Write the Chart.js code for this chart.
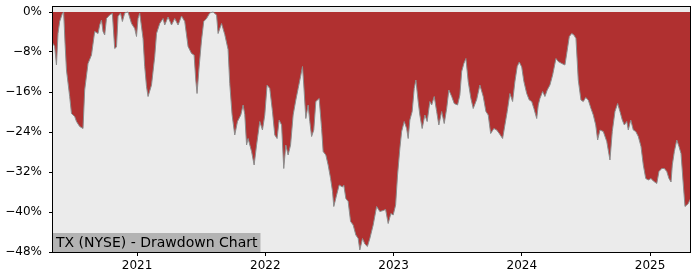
<!DOCTYPE html>
<html>
<head>
<meta charset="utf-8">
<title>TX (NYSE) - Drawdown Chart</title>
<script src="https://cdn.jsdelivr.net/npm/chart.js@4.4.1/dist/chart.umd.min.js"></script>
<style>
  html, body { margin: 0; padding: 0; background: #ffffff; }
  #wrap { width: 700px; height: 280px; }
</style>
</head>
<body>
<div id="wrap"><canvas id="chart" width="700" height="280"></canvas></div>
<script>
// dates as fractional years
const dates = [
  2020.345, 2020.358, 2020.372, 2020.384, 2020.397, 2020.418, 2020.428, 2020.439, 2020.450, 2020.475,
  2020.489, 2020.514, 2020.528, 2020.553, 2020.579, 2020.592, 2020.618, 2020.645, 2020.670, 2020.696,
  2020.709, 2020.723, 2020.735, 2020.748, 2020.762, 2020.787, 2020.808, 2020.826, 2020.840, 2020.852,
  2020.871, 2020.886, 2020.904, 2020.930, 2020.957, 2020.982, 2020.996, 2021.008, 2021.021, 2021.047,
  2021.060, 2021.074, 2021.086, 2021.113, 2021.138, 2021.152, 2021.177, 2021.203, 2021.216, 2021.242,
  2021.269, 2021.294, 2021.320, 2021.347, 2021.372, 2021.398, 2021.425, 2021.445, 2021.458, 2021.468,
  2021.484, 2021.503, 2021.520, 2021.542, 2021.567, 2021.593, 2021.620, 2021.632, 2021.659, 2021.684,
  2021.710, 2021.723, 2021.741, 2021.762, 2021.783, 2021.809, 2021.827, 2021.840, 2021.854, 2021.866,
  2021.893, 2021.913, 2021.932, 2021.957, 2021.978, 2021.996, 2022.014, 2022.035, 2022.056, 2022.074,
  2022.092, 2022.108, 2022.127, 2022.144, 2022.160, 2022.178, 2022.197, 2022.217, 2022.238, 2022.256,
  2022.275, 2022.290, 2022.300, 2022.316, 2022.334, 2022.347, 2022.361, 2022.378, 2022.394, 2022.420,
  2022.439, 2022.451, 2022.472, 2022.490, 2022.509, 2022.524, 2022.534, 2022.556, 2022.576, 2022.602,
  2022.612, 2022.628, 2022.646, 2022.665, 2022.685, 2022.706, 2022.724, 2022.737, 2022.758, 2022.776,
  2022.796, 2022.815, 2022.841, 2022.868, 2022.893, 2022.919, 2022.938, 2022.958, 2022.979, 2022.997,
  2023.016, 2023.031, 2023.049, 2023.063, 2023.083, 2023.102, 2023.114, 2023.127, 2023.145, 2023.161,
  2023.174, 2023.192, 2023.205, 2023.223, 2023.244, 2023.262, 2023.283, 2023.297, 2023.317, 2023.336,
  2023.353, 2023.375, 2023.395, 2023.414, 2023.431, 2023.453, 2023.473, 2023.499, 2023.517, 2023.531,
  2023.548, 2023.564, 2023.582, 2023.603, 2023.621, 2023.648, 2023.673, 2023.699, 2023.720, 2023.738,
  2023.757, 2023.782, 2023.804, 2023.824, 2023.850, 2023.868, 2023.886, 2023.907, 2023.928, 2023.946,
  2023.964, 2023.980, 2023.999, 2024.016, 2024.038, 2024.058, 2024.077, 2024.094, 2024.116, 2024.128,
  2024.141, 2024.162, 2024.180, 2024.198, 2024.219, 2024.240, 2024.266, 2024.284, 2024.311, 2024.336,
  2024.350, 2024.370, 2024.389, 2024.406, 2024.422, 2024.440, 2024.461, 2024.479, 2024.498, 2024.518,
  2024.539, 2024.557, 2024.576, 2024.591, 2024.609, 2024.635, 2024.662, 2024.687, 2024.705, 2024.726,
  2024.747, 2024.765, 2024.783, 2024.799, 2024.818, 2024.830, 2024.849, 2024.869, 2024.888, 2024.908,
  2024.929, 2024.947, 2024.966, 2024.986, 2025.007, 2025.025, 2025.052, 2025.069, 2025.091, 2025.111,
  2025.130, 2025.147, 2025.163, 2025.173, 2025.189, 2025.208, 2025.225, 2025.241, 2025.259, 2025.272,
  2025.286, 2025.298, 2025.311
];

// drawdown from running high, in percent
const drawdown = [
  -6.3, -6.9, -10.6, -4.3, -1.9, -0.3, 0, -6.3, -11.6, -16.9,
  -20.3, -20.9, -21.9, -22.9, -23.3, -15.6, -10.3, -8.6, -3.9, -4.3,
  -2.6, -1.6, -3.9, -4.6, -1.3, -0.6, -0.3, -7.3, -7.0, -0.9,
  -0.2, -1.9, -0.2, 0, -2.3, -3.3, -4.9, -1.3, -0.2, -5.3,
  -10.9, -14.9, -16.9, -14.6, -8.9, -4.3, -2.3, -1.3, -2.6, -1.0,
  -2.6, -1.3, -2.6, -0.8, -1.9, -6.9, -8.3, -8.6, -13.6, -16.3,
  -11.0, -5.6, -1.9, -1.3, -0.2, 0, -0.6, -4.3, -2.3, -4.5,
  -7.5, -14.3, -20.5, -24.6, -21.9, -20.6, -18.6, -20.5, -26.6, -25.3,
  -27.9, -30.6, -26.6, -21.9, -23.6, -20.6, -14.6, -15.3, -19.9, -24.6,
  -25.3, -21.6, -22.6, -31.3, -26.6, -28.6, -26.6, -20.6, -17.6, -15.3,
  -12.9, -10.9, -14.6, -21.3, -18.6, -21.9, -24.9, -23.6, -17.9, -17.3,
  -23.3, -27.9, -28.6, -30.6, -33.3, -35.9, -38.9, -36.6, -34.6, -35.0,
  -34.6, -37.3, -37.9, -41.9, -42.6, -44.6, -45.3, -47.6, -45.3, -46.4,
  -46.9, -45.3, -42.6, -38.9, -39.9, -39.7, -39.5, -42.3, -40.3, -40.6,
  -38.6, -32.6, -27.3, -23.9, -21.9, -23.3, -25.3, -21.6, -19.9, -15.3,
  -13.6, -17.9, -20.6, -23.3, -20.6, -21.9, -17.9, -18.6, -16.9, -19.9,
  -22.6, -19.9, -22.3, -19.3, -15.6, -16.9, -18.3, -18.6, -16.6, -11.9,
  -10.3, -9.3, -13.9, -17.3, -19.3, -17.5, -14.6, -16.9, -19.9, -20.6,
  -24.3, -23.3, -23.6, -24.3, -25.3, -22.6, -19.9, -16.3, -17.9, -13.9,
  -10.9, -10.0, -11.0, -13.9, -16.3, -17.6, -17.9, -19.3, -21.3, -18.6,
  -17.3, -15.9, -16.9, -15.6, -14.6, -12.6, -9.3, -9.9, -10.3, -10.6,
  -8.3, -4.9, -4.3, -4.6, -5.3, -13.6, -17.6, -17.9, -17.1, -17.6,
  -19.3, -20.6, -22.6, -25.6, -23.6, -23.9, -25.9, -29.6, -23.9, -19.9,
  -18.3, -19.9, -21.6, -22.6, -21.9, -23.6, -21.6, -23.6, -23.9, -24.9,
  -26.9, -30.6, -33.3, -33.6, -33.3, -33.8, -34.3, -31.9, -31.3, -31.3,
  -31.9, -33.3, -34.0, -30.6, -27.9, -25.6, -26.9, -28.3, -34.6, -38.9,
  -38.6, -38.3, -37.5
];

const yearTicks = [2021, 2022, 2023, 2024, 2025];
const title = 'TX (NYSE) - Drawdown Chart';

const font = { family: 'DejaVu Sans', size: 12 };

// grey plot background, black frame and the title box in the bottom-left corner
const framePlugin = {
  id: 'frame',
  beforeDraw(chart) {
    const { ctx, chartArea: a } = chart;
    ctx.save();
    ctx.fillStyle = '#ebebeb';
    ctx.fillRect(a.left, a.top, a.right - a.left, a.bottom - a.top);
    ctx.restore();
  },
  afterDraw(chart) {
    const { ctx, chartArea: a } = chart;
    ctx.save();
    ctx.font = '14px "DejaVu Sans"';
    const w = ctx.measureText(title).width;
    ctx.fillStyle = '#b3b3b3';
    ctx.fillRect(a.left, a.bottom - 19, w + 6, 19);
    ctx.fillStyle = '#000000';
    ctx.textBaseline = 'middle';
    ctx.fillText(title, a.left + 3, a.bottom - 9);
    ctx.strokeStyle = '#000000';
    ctx.lineWidth = 1;
    ctx.strokeRect(Math.round(a.left) - 0.5, Math.round(a.top) - 0.5,
      Math.round(a.right - a.left) + 1, Math.round(a.bottom - a.top) + 1);
    ctx.restore();
  }
};

new Chart(document.getElementById('chart'), {
  type: 'line',
  data: {
    datasets: [{
      label: 'Drawdown',
      data: dates.map((d, i) => ({ x: d, y: drawdown[i] })),
      borderColor: '#8c8c8c',
      borderWidth: 1,
      backgroundColor: '#b03030',
      fill: 'origin',
      pointRadius: 0,
      tension: 0
    }]
  },
  options: {
    responsive: false,
    animation: false,
    layout: { padding: { left: 0, right: 10, top: 7, bottom: 0 } },
    plugins: {
      legend: { display: false },
      tooltip: { enabled: false }
    },
    scales: {
      x: {
        type: 'linear',
        min: dates[0],
        max: dates[dates.length - 1],
        afterFit(scale) {
          scale.height = 28;
          scale.paddingLeft = 0;
          scale.paddingRight = 0;
        },
        afterBuildTicks(scale) { scale.ticks = yearTicks.map(v => ({ value: v })); },
        border: { display: false },
        grid: { drawOnChartArea: false, drawTicks: true, tickLength: 4, color: '#000000' },
        ticks: {
          color: '#000000',
          font: font,
          padding: 3,
          maxRotation: 0,
          callback: v => String(v)
        }
      },
      y: {
        min: -48,
        max: 1,
        afterFit(scale) {
          scale.width = 53;
          scale.paddingTop = 0;
          scale.paddingBottom = 0;
        },
        border: { display: false },
        grid: { drawOnChartArea: false, drawTicks: true, tickLength: 4, color: '#000000' },
        ticks: {
          stepSize: 8,
          includeBounds: false,
          color: '#000000',
          font: font,
          padding: 7,
          callback: v => (v === 0 ? '0%' : '\u2212' + Math.abs(v) + '%')
        }
      }
    }
  },
  plugins: [framePlugin]
});
</script>
</body>
</html>
